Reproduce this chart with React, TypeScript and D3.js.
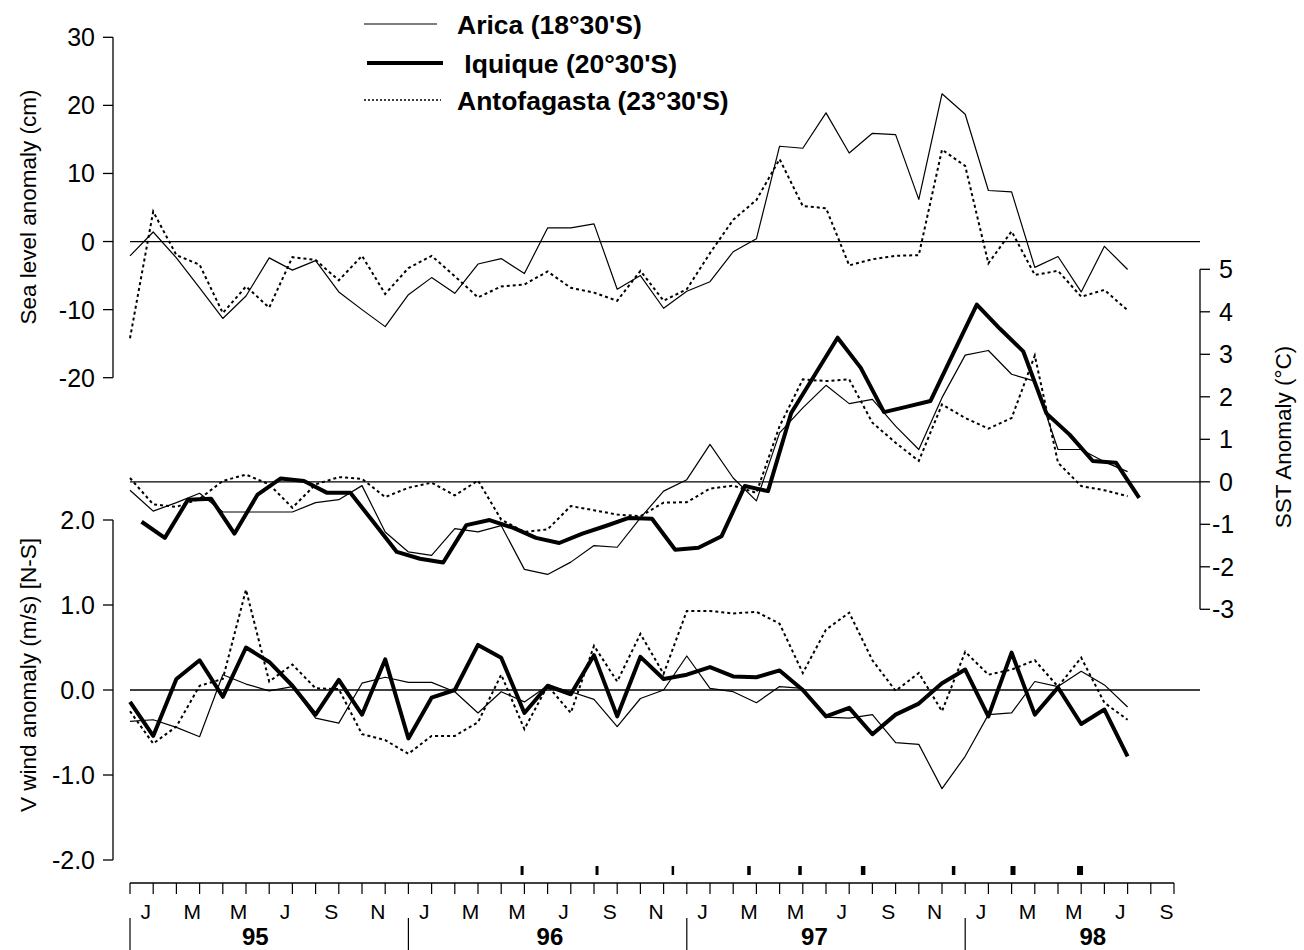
import React from "react";
import * as d3 from "d3";

// ---------- data (month index 0 = Jan 1995) ----------
const months = d3.range(0, 44);
const seaArica = [-2.1, 1.4, -2.4, -6.8, -11.3, -8.0, -2.4, -4.2, -2.8, -7.4, -10.0, -12.5, -7.8, -5.3, -7.6, -3.3, -2.5, -4.7, 2.0, 2.0, 2.6, -7.0, -5.0, -9.8, -7.3, -5.9, -1.5, 0.4, 14.0, 13.7, 18.9, 13.0, 15.9, 15.7, 6.2, 21.7, 18.7, 7.5, 7.3, -3.8, -2.2, -7.4, -0.7, -4.1];
const seaAnto = [-14.2, 4.4, -2.0, -3.4, -10.5, -6.6, -9.7, -2.3, -2.7, -5.7, -2.1, -7.7, -3.9, -2.1, -5.1, -8.2, -6.6, -6.3, -4.4, -6.8, -7.5, -8.7, -4.3, -8.7, -7.0, -1.7, 3.2, 6.1, 12.1, 5.2, 4.9, -3.5, -2.6, -2.1, -2.0, 13.5, 11.1, -3.2, 1.5, -4.9, -4.3, -8.1, -7.1, -10.1];
const sstArica = [-0.2, -0.69, -0.49, -0.27, -0.71, -0.71, -0.71, -0.71, -0.49, -0.42, -0.09, -1.18, -1.65, -1.73, -1.1, -1.18, -1.03, -2.06, -2.18, -1.89, -1.5, -1.54, -0.85, -0.22, 0.05, 0.88, 0.09, -0.45, 1.15, 1.74, 2.27, 1.84, 1.94, 1.31, 0.76, 1.98, 2.98, 3.09, 2.53, 2.37, 0.76, 0.76, 0.47, 0.24];
// Iquique SST is plotted at mid-month
const sstIquique = [-0.94, -1.32, -0.42, -0.4, -1.22, -0.3, 0.08, 0.02, -0.26, -0.26, -0.95, -1.65, -1.81, -1.9, -1.02, -0.9, -1.08, -1.32, -1.44, -1.22, -1.04, -0.85, -0.87, -1.6, -1.55, -1.28, -0.1, -0.22, 1.62, 2.5, 3.39, 2.68, 1.64, 1.77, 1.9, 3.04, 4.17, 3.6, 3.07, 1.61, 1.11, 0.49, 0.45, -0.38];
const sstAnto = [0.09, -0.53, -0.59, -0.4, 0.02, 0.17, -0.06, -0.61, -0.06, 0.11, 0.07, -0.36, -0.14, -0.02, -0.32, 0.03, -0.89, -1.18, -1.12, -0.57, -0.67, -0.77, -0.81, -0.49, -0.48, -0.16, -0.09, -0.26, 1.31, 2.41, 2.37, 2.41, 1.39, 0.92, 0.49, 1.82, 1.5, 1.25, 1.5, 2.97, 0.45, -0.1, -0.2, -0.34];
const windArica = [-0.37, -0.35, -0.44, -0.55, 0.18, 0.07, -0.01, 0.04, -0.33, -0.39, 0.08, 0.15, 0.09, 0.09, -0.02, -0.27, -0.02, -0.14, 0.05, -0.02, -0.11, -0.43, -0.1, 0.0, 0.4, 0.02, -0.02, -0.15, 0.04, 0.02, -0.32, -0.33, -0.29, -0.62, -0.64, -1.16, -0.78, -0.29, -0.27, 0.1, 0.04, 0.22, 0.06, -0.2];
const windIquique = [-0.14, -0.54, 0.13, 0.35, -0.08, 0.5, 0.33, 0.05, -0.29, 0.12, -0.29, 0.36, -0.57, -0.09, 0.0, 0.53, 0.38, -0.27, 0.05, -0.05, 0.41, -0.31, 0.39, 0.13, 0.18, 0.27, 0.16, 0.15, 0.23, 0.0, -0.31, -0.21, -0.52, -0.29, -0.16, 0.08, 0.24, -0.31, 0.44, -0.29, 0.03, -0.4, -0.23, -0.78];
const windAnto = [-0.25, -0.63, -0.43, 0.05, 0.13, 1.18, 0.1, 0.3, 0.02, 0.01, -0.52, -0.59, -0.75, -0.54, -0.54, -0.38, 0.18, -0.46, 0.05, -0.27, 0.52, 0.1, 0.66, 0.19, 0.93, 0.93, 0.9, 0.92, 0.78, 0.2, 0.71, 0.91, 0.35, -0.01, 0.2, -0.25, 0.45, 0.18, 0.24, 0.35, 0.04, 0.38, -0.15, -0.35];

const seaTicks = [30, 20, 10, 0, -10, -20];
const sstTicks = [5, 4, 3, 2, 1, 0, -1, -2, -3];
const windTicks = [2, 1, 0, -1, -2];
const monthLetters = ["J", "M", "M", "J", "S", "N"];
const years = ["95", "96", "97", "98"];
const yearLabelAt = [5.4, 18.1, 29.5, 41.5];
const eventMarks = [16.9, 20.13, 23.4, 26.68, 28.88, 31.6, 35.5, 38.06, 40.95];
const eventWeights = [3, 3, 2.5, 3.5, 3.5, 4.5, 3.5, 5, 6];
const legendItems = ["Arica (18°30'S)", " Iquique (20°30'S)", "Antofagasta (23°30'S)"];

const FONT = "'Liberation Sans', Arial, Helvetica, sans-serif";
const NARROW = "'Liberation Sans Narrow', 'Liberation Sans', Arial, sans-serif";

export default function App() {
  const x = d3.scaleLinear().domain([0, 45]).range([130, 1174]);
  const ySea = d3.scaleLinear().domain([-20, 30]).range([377.7, 37.3]);
  const ySst = d3.scaleLinear().domain([-3, 5]).range([609.3, 269.3]);
  const yWind = d3.scaleLinear().domain([-2, 2]).range([860, 520]);

  const mk = (ys: d3.ScaleLinear<number, number>, vals: number[], off = 0) =>
    d3.line<number>().x((_, i) => x(months[i] + off)).y((v) => ys(v))(vals) || "";

  const thin = { fill: "none", stroke: "#000", strokeWidth: 1.2, strokeLinejoin: "round" as const };
  const thick = { fill: "none", stroke: "#000", strokeWidth: 4, strokeLinejoin: "round" as const };
  const dotted = { fill: "none", stroke: "#000", strokeWidth: 2, strokeDasharray: "3 3" };

  const leftAxis = (ys: d3.ScaleLinear<number, number>, ticks: number[], fmt: (v: number) => string) => {
    const [d0, d1] = ys.domain();
    return (
      <g>
        <line x1={113} x2={113} y1={ys(d0)} y2={ys(d1)} stroke="#000" strokeWidth={1.3} />
        {ticks.map((t) => (
          <g key={t}>
            <line x1={103} x2={113} y1={ys(t)} y2={ys(t)} stroke="#000" strokeWidth={1.3} />
            <text x={95} y={ys(t)} dy="0.36em" textAnchor="end" fontSize={25} fontFamily={FONT}>{fmt(t)}</text>
          </g>
        ))}
      </g>
    );
  };

  return (
    <svg width={1304} height={950} style={{ display: "block", position: "absolute", left: 0, top: 0, background: "#fff" }}>
      <rect width={1304} height={950} fill="#fff" />
      {/* zero lines */}
      <line x1={130} x2={1200} y1={ySea(0)} y2={ySea(0)} stroke="#000" strokeWidth={1.3} />
      <line x1={130} x2={1200} y1={ySst(0)} y2={ySst(0)} stroke="#000" strokeWidth={1.3} />
      <line x1={130} x2={1200} y1={yWind(0)} y2={yWind(0)} stroke="#000" strokeWidth={1.3} />

      {/* axes */}
      {leftAxis(ySea, seaTicks, (v) => String(v))}
      {leftAxis(yWind, windTicks, (v) => v.toFixed(1))}
      <g>
        <line x1={1200} x2={1200} y1={ySst(-3)} y2={ySst(5)} stroke="#000" strokeWidth={1.3} />
        {sstTicks.map((t) => (
          <g key={t}>
            <line x1={1200} x2={1210} y1={ySst(t)} y2={ySst(t)} stroke="#000" strokeWidth={1.3} />
            <text x={t < 0 ? 1212 : 1219} y={ySst(t)} dy="0.36em" fontSize={25} fontFamily={FONT}>{String(t)}</text>
          </g>
        ))}
      </g>

      {/* axis titles */}
      <text transform={`translate(36,207) rotate(-90)`} textAnchor="middle" fontSize={22.5} fontFamily={FONT}>Sea level anomaly (cm)</text>
      <text transform={`translate(36,675) rotate(-90)`} textAnchor="middle" fontSize={22.5} fontFamily={FONT}>V wind anomaly (m/s) [N-S]</text>
      <text transform={`translate(1291,437) rotate(-90)`} textAnchor="middle" fontSize={22.5} fontFamily={FONT}>SST Anomaly (°C)</text>

      {/* bottom time axis */}
      <line x1={x(0)} x2={x(45)} y1={883} y2={883} stroke="#000" strokeWidth={1.3} />
      {d3.range(0, 46).map((m) => (
        <line key={m} x1={x(m)} x2={x(m)} y1={883} y2={894} stroke="#000" strokeWidth={1.2} />
      ))}
      {d3.range(0, 45, 2).map((m) => (
        <text key={m} x={x(m + 0.68)} y={918.5} textAnchor="middle" fontSize={21} fontFamily={NARROW}>
          {monthLetters[(m % 12) / 2]}
        </text>
      ))}
      {years.map((yr, k) => (
        <g key={yr}>
          <line x1={x(k * 12)} x2={x(k * 12)} y1={918} y2={950} stroke="#000" strokeWidth={1.2} />
          <text x={x(yearLabelAt[k])} y={945} textAnchor="middle" fontSize={24} fontWeight="bold" fontFamily={NARROW}>{yr}</text>
        </g>
      ))}
      {eventMarks.map((m, k) => (
        <rect key={k} x={x(m) - eventWeights[k] / 2} y={866} width={eventWeights[k]} height={9} fill="#000" />
      ))}

      {/* series */}
      <path d={mk(ySea, seaArica)} {...thin} />
      <path d={mk(ySea, seaAnto)} {...dotted} />
      <path d={mk(ySst, sstArica)} {...thin} />
      <path d={mk(ySst, sstAnto)} {...dotted} />
      <path d={mk(ySst, sstIquique, 0.5)} {...thick} />
      <path d={mk(yWind, windArica)} {...thin} />
      <path d={mk(yWind, windAnto)} {...dotted} />
      <path d={mk(yWind, windIquique)} {...thick} />

      {/* legend */}
      <g fontFamily={FONT} fontWeight="bold" fontSize={26.5}>
        <line x1={364} x2={437} y1={24} y2={24} stroke="#000" strokeWidth={1.2} />
        <text x={457} y={24} dy="0.36em">{legendItems[0]}</text>
        <line x1={367} x2={443} y1={63} y2={63} stroke="#000" strokeWidth={4} />
        <text x={457} y={63} dy="0.36em" style={{ whiteSpace: "pre" }}>{legendItems[1]}</text>
        <line x1={364} x2={441} y1={100} y2={100} stroke="#000" strokeWidth={1.5} strokeDasharray="2 2" />
        <text x={457} y={100} dy="0.36em">{legendItems[2]}</text>
      </g>
    </svg>
  );
}
